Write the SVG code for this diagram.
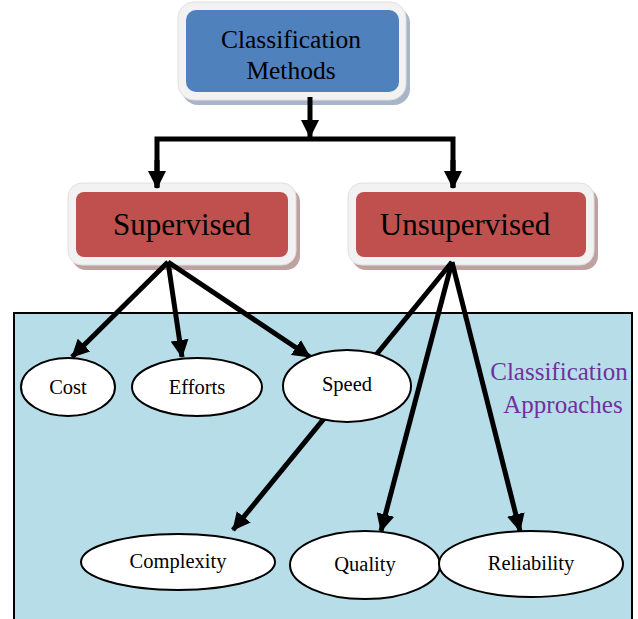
<svg xmlns="http://www.w3.org/2000/svg" width="638" height="619" viewBox="0 0 638 619">
<defs>
<style>
.lbl{font-family:"Liberation Serif","Times New Roman",serif;fill:#000;text-anchor:middle}
.purple{fill:#7030a0}
.conn{stroke:#000;stroke-width:5;fill:none}
.ell{fill:#fff;stroke:#000;stroke-width:2}
.frame{fill:#f2f2f2;stroke:#e0e0e0;stroke-width:1}
</style>
<marker id="ah" markerUnits="userSpaceOnUse" markerWidth="20" markerHeight="18" refX="17" refY="9" orient="auto">
<path d="M0,0 L18,9 L0,18 Z" fill="#000"/>
</marker>
</defs>
<rect width="638" height="619" fill="#fff"/>
<rect x="14" y="313" width="618" height="310" fill="#b7dde8" stroke="#000" stroke-width="2"/>
<g id="classification-methods">
<rect x="182" y="7" width="228" height="98" rx="16" fill="#a8b4c8"/>
<rect x="178" y="2" width="228" height="98" rx="16" class="frame"/>
<rect x="186" y="10" width="213" height="82" rx="10" fill="#4f81bd"/>
<text class="lbl" x="291" y="48" font-size="25.5">Classification</text>
<text class="lbl" x="291" y="79" font-size="25.5">Methods</text>
</g>
<g id="supervised">
<rect x="72" y="188" width="228" height="82" rx="14" fill="#bfa1a1"/>
<rect x="68" y="183" width="228" height="82" rx="14" class="frame"/>
<rect x="76" y="192" width="212" height="65" rx="8" fill="#c0504d"/>
<text class="lbl" x="182" y="235" font-size="31">Supervised</text>
</g>
<g id="unsupervised">
<rect x="352" y="188" width="246" height="82" rx="14" fill="#bfa1a1"/>
<rect x="348" y="183" width="246" height="82" rx="14" class="frame"/>
<rect x="356" y="192" width="230" height="65" rx="8" fill="#c0504d"/>
<text class="lbl" x="465" y="235" font-size="31">Unsupervised</text>
</g>
<g id="connectors">
<line class="conn" x1="310" y1="97" x2="310" y2="137" marker-end="url(#ah)"/>
<polyline class="conn" points="157,187 157,139 453,139 453,187" stroke-linejoin="miter"/>
<line class="conn" x1="157" y1="160" x2="157" y2="188" marker-end="url(#ah)"/>
<line class="conn" x1="453" y1="160" x2="453" y2="188" marker-end="url(#ah)"/>
<line class="conn" x1="168" y1="262" x2="72" y2="357" marker-end="url(#ah)"/>
<line class="conn" x1="168" y1="262" x2="182" y2="357" marker-end="url(#ah)"/>
<line class="conn" x1="168" y1="262" x2="310" y2="357" marker-end="url(#ah)"/>
<line class="conn" x1="452" y1="262" x2="233" y2="530" marker-end="url(#ah)"/>
<line class="conn" x1="452" y1="262" x2="381" y2="531" marker-end="url(#ah)"/>
<line class="conn" x1="452" y1="262" x2="520" y2="531" marker-end="url(#ah)"/>
</g>
<g id="cost"><ellipse class="ell" cx="68" cy="387" rx="47" ry="29"/><text class="lbl" x="68" y="394" font-size="20.5">Cost</text></g>
<g id="efforts"><ellipse class="ell" cx="197" cy="387" rx="65" ry="29"/><text class="lbl" x="197" y="394" font-size="20.5">Efforts</text></g>
<g id="speed"><ellipse class="ell" cx="347" cy="386" rx="64" ry="36"/><text class="lbl" x="347" y="391" font-size="20.5">Speed</text></g>
<g id="complexity"><ellipse class="ell" cx="178" cy="562" rx="97" ry="28"/><text class="lbl" x="178" y="568" font-size="20.5">Complexity</text></g>
<g id="quality"><ellipse class="ell" cx="365" cy="565" rx="75" ry="34"/><text class="lbl" x="365" y="571" font-size="20.5">Quality</text></g>
<g id="reliability"><ellipse class="ell" cx="531" cy="564" rx="92" ry="33"/><text class="lbl" x="531" y="570" font-size="20.5">Reliability</text></g>
<g id="classification-approaches">
<text class="lbl purple" x="559" y="380" font-size="25">Classification</text>
<text class="lbl purple" x="563" y="413" font-size="25">Approaches</text>
</g>
</svg>
